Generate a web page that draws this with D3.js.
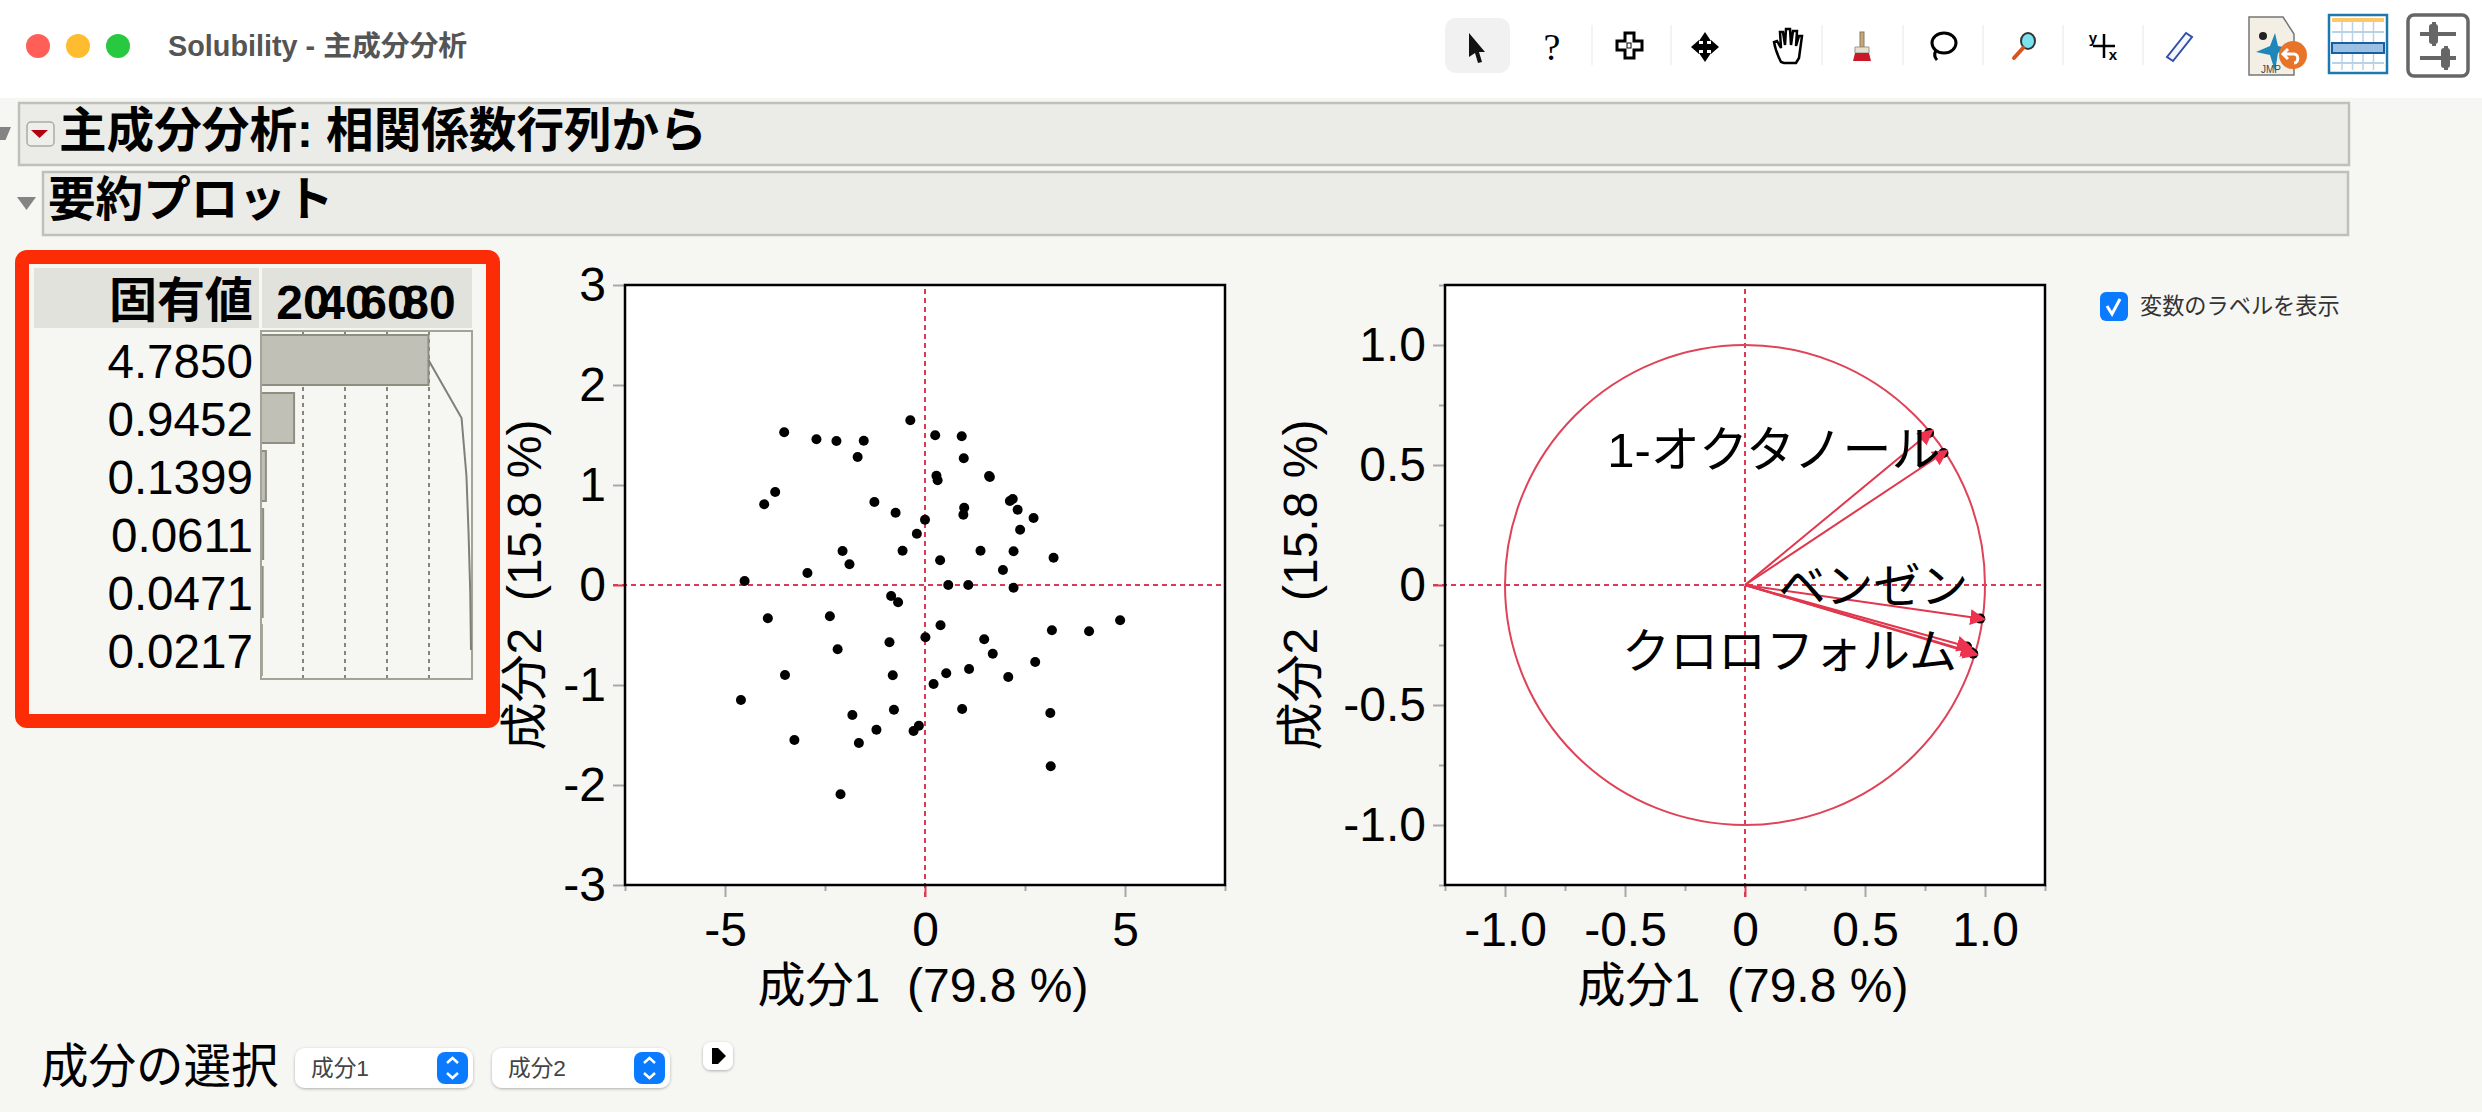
<!DOCTYPE html>
<html><head><meta charset="utf-8">
<script src="https://cdn.jsdelivr.net/npm/d3@7"></script>
<style>
html,body{margin:0;padding:0;background:#f6f6f3;overflow:hidden}
text{font-family:"Liberation Sans","Noto Sans CJK JP",sans-serif;fill:#000}
</style></head><body><div id="chart"></div>
<script>
const windowTitle = "Solubility - 主成分分析";
const sectionTitles = ["主成分分析: 相関係数行列から", "要約プロット"];
const eigenHeader = "固有値";
const eigenvalues = [4.7850, 0.9452, 0.1399, 0.0611, 0.0471, 0.0217];
const percentTicks = [20, 40, 60, 80];
const xAxisLabel = "成分1  (79.8 %)";
const yAxisLabel = "成分2  (15.8 %)";
const scoreX = [-0.367,-3.52,-2.714,-2.214,-1.531,0.255,0.918,-1.684,0.969,0.286,0.316,1.622,1.602,-3.745,-4.02,-1.265,-0.735,2.194,2.122,2.316,0.98,0.959,0,2.714,-0.204,2.378,-2.061,-0.561,1.388,2.214,0.378,3.214,-1.888,-2.939,1.949,-4.51,0.582,1.082,2.214,-0.847,-0.673,-3.929,-2.378,4.878,0.388,3.173,4.102,0.01,1.48,-0.888,-2.184,1.694,2.755,1.102,0.531,-3.5,-0.806,2.082,0.214,-4.602,-0.776,0.929,3.133,-1.816,-0.153,-1.214,-0.286,-3.265,-1.653,3.143,-2.112];
const scoreY = [1.647,1.527,1.457,1.44,1.443,1.497,1.487,1.28,1.267,1.093,1.047,1.08,1.09,0.93,0.807,0.83,0.723,0.86,0.84,0.753,0.773,0.703,0.653,0.67,0.513,0.553,0.34,0.343,0.343,0.337,0.247,0.273,0.207,0.12,0.15,0.04,0,0,-0.027,-0.11,-0.173,-0.333,-0.313,-0.353,-0.403,-0.453,-0.463,-0.523,-0.543,-0.573,-0.643,-0.687,-0.77,-0.84,-0.883,-0.9,-0.903,-0.92,-0.99,-1.15,-1.247,-1.24,-1.28,-1.3,-1.407,-1.447,-1.46,-1.55,-1.58,-1.813,-2.093];
const loadingX = [0.767,0.827,0.98,0.925,0.942,0.951];
const loadingY = [0.633,0.55,-0.14,-0.256,-0.279,-0.286];
const labelText = ["1-オクタノール","ベンゼン","クロロフォルム"];
const labelPoint = [1,2,4];
const scoreXTicks = [-5,0,5], scoreXMinor = [-7.5,-2.5,2.5,7.5];
const scoreYTicks = [-3,-2,-1,0,1,2,3];
const loadTicks = [-1,-0.5,0,0.5,1], loadMinor = [-1.25,-0.75,-0.25,0.25,0.75,1.25];
const selectLabels = ["成分1","成分2"];
const checkboxLabel = "変数のラベルを表示";
const selectHeading = "成分の選択";

const W=2482,H=1112,FS=48;
const RED="#dc3a50", GRID="#85857c";
const svg=d3.select("#chart").append("svg").attr("width",W).attr("height",H).style("display","block");
svg.append("rect").attr("width",W).attr("height",H).attr("fill","#f6f6f3");
svg.append("rect").attr("width",W).attr("height",98).attr("fill","#fff");

// ---- window chrome
[["#ff5f57",38],["#febc2e",78],["#28c840",118]].forEach(([c,x])=>svg.append("circle").attr("cx",x).attr("cy",46).attr("r",12).attr("fill",c));
svg.append("text").attr("x",168).attr("y",56).attr("font-size",28.8).attr("font-weight",700).style("fill","#555").text(windowTitle);
svg.append("rect").attr("x",1445).attr("y",18).attr("width",65).attr("height",55).attr("rx",11).attr("fill","#f1f1f1");
[1592,1671,1822,1903,1983,2063,2143].forEach(x=>svg.append("line").attr("x1",x).attr("x2",x).attr("y1",25).attr("y2",65).attr("stroke","#efefef").attr("stroke-width",1.5));
const ic=svg.append("g");
ic.append("path").attr("d","M1469 33L1485 52L1479 52L1482 62L1478 63L1475 53L1469 57Z").attr("fill","#111");
ic.append("text").attr("x",1552).attr("y",60).attr("text-anchor","middle").attr("font-size",38).style("font-family","Liberation Serif").text("?");
ic.append("path").attr("d","M1625 33h9v8h8v9h-8v8h-9v-8h-8v-9h8z").attr("fill","#fff").attr("stroke","#000").attr("stroke-width",3);
ic.append("rect").attr("x",1627).attr("y",43).attr("width",4).attr("height",5).attr("fill","none").attr("stroke","#000");
ic.append("path").attr("d","M1705 32l6 9h-4v3h4v-4l8 7-8 7v-4h-4v3h4l-6 9-6-9h4v-3h-4v4l-8-7 8-7v4h4v-3h-4z").attr("fill","#000");
ic.append("path").attr("d","M1781 62c-4-8-6-14-7-20l3-1 4 7-1-16h3l2 13 1-16h4l1 16 2-14h4l-1 15 3-10h3l-3 22-3 5h-12z").attr("fill","#fff").attr("stroke","#000").attr("stroke-width",2.5);
ic.append("rect").attr("x",1860).attr("y",32).attr("width",4).attr("height",15).attr("fill","#c9a870").attr("stroke","#876");
ic.append("path").attr("d","M1855 47h14v6h-14z").attr("fill","#e8e0cf").attr("stroke","#998");
ic.append("path").attr("d","M1853 61l2-8h14l2 8z").attr("fill","#c8182a");
ic.append("ellipse").attr("cx",1944).attr("cy",43).attr("rx",12).attr("ry",10).attr("fill","none").attr("stroke","#000").attr("stroke-width",3);
ic.append("path").attr("d","M1936 50c-3 6 0 9 1 10").attr("fill","none").attr("stroke","#000").attr("stroke-width",3);
ic.append("ellipse").attr("cx",2028).attr("cy",41).attr("rx",7).attr("ry",8).attr("fill","#7be3ee").attr("stroke","#333").attr("stroke-width",2);
ic.append("line").attr("x1",2023).attr("y1",48).attr("x2",2014).attr("y2",58).attr("stroke","#d9531e").attr("stroke-width",4).attr("stroke-linecap","round");
ic.append("path").attr("d","M2104 34v24M2093 46h22").attr("stroke","#000").attr("stroke-width",2.5);
ic.append("text").attr("x",2093).attr("y",43).attr("text-anchor","middle").attr("font-size",15).attr("font-weight",700).text("y");
ic.append("text").attr("x",2113).attr("y",60).attr("text-anchor","middle").attr("font-size",15).attr("font-weight",700).text("x");
ic.append("path").attr("d","M2167 57l19-24 6 4-19 24z").attr("fill","#f4f6fb").attr("stroke","#2f4fa8").attr("stroke-width",2);
ic.append("path").attr("d","M2249 17h34l11 17v41h-45z").attr("fill","#f3efe4").attr("stroke","#777").attr("stroke-width",1.5);
ic.append("path").attr("d","M2256 52l14-6 5-13 3 13 10 2-10 5-3 18-5-16z").attr("fill","#1e86b8");
ic.append("circle").attr("cx",2263).attr("cy",36).attr("r",4).attr("fill","#222");
ic.append("circle").attr("cx",2293).attr("cy",55).attr("r",14).attr("fill","#e8742a");
ic.append("path").attr("d","M2288 49l-5 5 5 5M2284 54h10c5 0 5 9 0 9").attr("fill","none").attr("stroke","#fff").attr("stroke-width",3);
ic.append("text").attr("x",2271).attr("y",73).attr("text-anchor","middle").attr("font-size",10).style("fill","#444").text("JMP");
ic.append("rect").attr("x",2329).attr("y",15).attr("width",58).attr("height",58).attr("fill","#fff").attr("stroke","#1d78ad").attr("stroke-width",2.5);
ic.append("rect").attr("x",2332).attr("y",18).attr("width",52).attr("height",4).attr("fill","#ffc766");
d3.range(4).forEach(i=>ic.append("line").attr("x1",2342+i*10.5).attr("x2",2342+i*10.5).attr("y1",22).attr("y2",70).attr("stroke","#b9d2e6").attr("stroke-width",1.5));
[32,63].forEach(y=>ic.append("line").attr("x1",2332).attr("x2",2384).attr("y1",y).attr("y2",y).attr("stroke","#b9d2e6").attr("stroke-width",2));
ic.append("rect").attr("x",2332).attr("y",43).attr("width",52).attr("height",10).attr("fill","#9cc0e2").attr("stroke","#1a5ea3").attr("stroke-width",2);
ic.append("rect").attr("x",2408).attr("y",15).attr("width",60).attr("height",61).attr("rx",6).attr("fill","#fff").attr("stroke","#666").attr("stroke-width",3.5);
ic.append("path").attr("d","M2420 34h36M2434 22v24M2420 58h36M2446 46v24").attr("stroke","#666").attr("stroke-width",4);
ic.append("rect").attr("x",2429).attr("y",24).attr("width",9).attr("height",20).attr("rx",3).attr("fill","#666");
ic.append("rect").attr("x",2441).attr("y",48).attr("width",9).attr("height",20).attr("rx",3).attr("fill","#666");

// ---- outline bars
const bars=[{x:19,y:103,x2:2349,y2:165,tx:59,by:147},{x:43,y:172,x2:2348,y2:235,tx:48,by:216}];
bars.forEach((b,i)=>{
  svg.append("rect").attr("x",b.x).attr("y",b.y).attr("width",b.x2-b.x).attr("height",b.y2-b.y).attr("fill","#ebebe7").attr("stroke","#c0c0ba").attr("stroke-width",2.5);
  svg.append("text").attr("x",b.tx).attr("y",b.by).attr("font-size",47.6).attr("font-weight",700).text(sectionTitles[i]);
});
svg.append("path").attr("d","M0 127h11l-5.5 13L0 140z").attr("fill","#848484");
svg.append("path").attr("d","M17 197h19l-9.5 13z").attr("fill","#848484");
svg.append("rect").attr("x",27).attr("y",122).attr("width",27).attr("height",24).attr("rx",4).attr("fill","#eeeeea").attr("stroke","#aaa").attr("stroke-width",1.5);
svg.append("path").attr("d","M31 130h17l-8.5 8z").attr("fill","#b00012");

// ---- eigenvalue table
const total=d3.sum(eigenvalues);
const pct=eigenvalues.map(v=>v/total*100);
const cum=Array.from(d3.cumsum(pct));
const pctX=d3.scaleLinear().domain([0,100]).range([261,471]);
const rowY=d3.scaleBand().domain(d3.range(eigenvalues.length)).range([331,679]).paddingInner(8/58).paddingOuter(4/58);
const tbl=svg.append("g");
tbl.append("rect").attr("x",34).attr("y",268).attr("width",225).attr("height",60).attr("fill","#e2e2dd");
tbl.append("rect").attr("x",262).attr("y",268).attr("width",210).attr("height",60).attr("fill","#e2e2dd");
tbl.append("text").attr("x",253).attr("y",317).attr("text-anchor","end").attr("font-size",FS).attr("font-weight",700).text(eigenHeader);
tbl.selectAll("text.pt").data(percentTicks).join("text").attr("class","pt").attr("x",d=>pctX(d)).attr("y",319).attr("text-anchor","middle").attr("font-size",FS).attr("font-weight",700).text(d=>d);
tbl.selectAll("line.g").data(percentTicks).join("line").attr("class","g").attr("x1",d=>pctX(d)).attr("x2",d=>pctX(d)).attr("y1",331).attr("y2",679).attr("stroke",GRID).attr("stroke-width",2).attr("stroke-dasharray","4 4");
tbl.selectAll("rect.b").data(pct).join("rect").attr("class","b").attr("x",pctX(0)).attr("y",(d,i)=>rowY(i)).attr("width",d=>pctX(d)-pctX(0)).attr("height",rowY.bandwidth()).attr("fill","#c0c0b6").attr("stroke","#8e8e82").attr("stroke-width",2);
tbl.append("rect").attr("x",261).attr("y",331).attr("width",211).attr("height",348).attr("fill","none").attr("stroke","#a3a398").attr("stroke-width",2);
tbl.append("path").datum(cum).attr("d",d3.line().x(d=>pctX(d)).y((d,i)=>rowY(i)+rowY.bandwidth()/2)).attr("fill","none").attr("stroke","#808078").attr("stroke-width",2);
tbl.selectAll("text.v").data(eigenvalues).join("text").attr("class","v").attr("x",253).attr("y",(d,i)=>rowY(i)+rowY.bandwidth()/2+18).attr("text-anchor","end").attr("font-size",47.6).text(d=>d3.format(".4f")(d));
svg.append("rect").attr("x",22).attr("y",257).attr("width",471).attr("height",464).attr("rx",5).attr("fill","none").attr("stroke","#fb2c06").attr("stroke-width",14);

// ---- plot helper
const fmt=d=>d===0?"0":d.toFixed(1);
function frame(x,y,xT,xM,yT,yM,xFmt,yFmt,labelBase){
  const g=svg.append("g");
  const [l,r]=x.range(),[b,t]=y.range();
  g.append("rect").attr("x",l).attr("y",t).attr("width",r-l).attr("height",b-t).attr("fill","#fff");
  const style=(s)=>{
    s.select(".domain").remove();
    s.selectAll("line").attr("stroke",d=>d===0?RED:"#a8a8a8").attr("stroke-width",2);
    s.selectAll("text").attr("font-size",FS).style("font-family",'"Liberation Sans","Noto Sans CJK JP",sans-serif');
  };
  g.append("g").attr("transform",`translate(0,${b})`).call(d3.axisBottom(x).tickValues(xT).tickSize(12).tickPadding(15).tickFormat(xFmt)).call(style);
  g.append("g").attr("transform",`translate(0,${b})`).call(d3.axisBottom(x).tickValues(xM).tickSize(6).tickFormat("")).call(style);
  g.append("g").attr("transform",`translate(${l},0)`).call(d3.axisLeft(y).tickValues(yT).tickSize(12).tickPadding(7).tickFormat(yFmt)).call(style);
  if(yM.length) g.append("g").attr("transform",`translate(${l},0)`).call(d3.axisLeft(y).tickValues(yM).tickSize(6).tickFormat("")).call(style);
  g.append("line").attr("x1",x(0)).attr("x2",x(0)).attr("y1",t+4).attr("y2",b+12).attr("stroke",RED).attr("stroke-width",2).attr("stroke-dasharray","5 4");
  g.append("line").attr("x1",l-12).attr("x2",r-3).attr("y1",y(0)).attr("y2",y(0)).attr("stroke",RED).attr("stroke-width",2).attr("stroke-dasharray","5 4");
  g.append("text").attr("x",(l+r)/2-2).attr("y",1002).attr("text-anchor","middle").attr("font-size",FS).style("white-space","pre").attr("xml:space","preserve").text(xAxisLabel);
  g.append("text").attr("transform",`translate(${labelBase},${(t+b)/2}) rotate(-90)`).attr("text-anchor","middle").attr("font-size",FS).style("white-space","pre").attr("xml:space","preserve").text(yAxisLabel);
  return ()=>g.append("rect").attr("x",l).attr("y",t).attr("width",r-l).attr("height",b-t).attr("fill","none").attr("stroke","#000").attr("stroke-width",2.5);
}

// ---- score plot
const sx=d3.scaleLinear().domain([-7.5,7.5]).range([625,1225]);
const sy=d3.scaleLinear().domain([-3,3]).range([885,285]);
const f1=frame(sx,sy,scoreXTicks,scoreXMinor,scoreYTicks,[],d=>String(d),d=>String(d),541);
svg.append("g").selectAll("circle").data(scoreX).join("circle").attr("cx",d=>sx(d)).attr("cy",(d,i)=>sy(scoreY[i])).attr("r",5).attr("fill","#000");
f1();

// ---- loading plot
const lx=d3.scaleLinear().domain([-1.25,1.25]).range([1445,2045]);
const ly=d3.scaleLinear().domain([-1.25,1.25]).range([885,285]);
const f2=frame(lx,ly,loadTicks,loadMinor,loadTicks,loadMinor,fmt,fmt,1317);
svg.append("ellipse").attr("cx",lx(0)).attr("cy",ly(0)).attr("rx",lx(1)-lx(0)).attr("ry",ly(0)-ly(1)).attr("fill","none").attr("stroke","#df4358").attr("stroke-width",2);
svg.append("defs").append("marker").attr("id","head").attr("markerUnits","userSpaceOnUse").attr("markerWidth",20).attr("markerHeight",20).attr("refX",10).attr("refY",8).attr("orient","auto")
  .append("path").attr("d","M0 0L16 8L0 16Z").attr("fill","#ee3350");
svg.append("g").selectAll("circle").data(loadingX).join("circle").attr("cx",d=>lx(d)).attr("cy",(d,i)=>ly(loadingY[i])).attr("r",5).attr("fill","#000");
svg.append("g").selectAll("line").data(loadingX).join("line").attr("x1",lx(0)).attr("y1",ly(0)).attr("x2",d=>lx(d)).attr("y2",(d,i)=>ly(loadingY[i])).attr("stroke","#e0374d").attr("stroke-width",2).attr("marker-end","url(#head)");
const labelOffset=[[-3,14],[-12,-16],[-14,16]];
const labelSize=[49,47.5,48];
svg.append("g").selectAll("text").data(labelText).join("text")
  .attr("x",(d,i)=>lx(loadingX[labelPoint[i]])+labelOffset[i][0])
  .attr("y",(d,i)=>ly(loadingY[labelPoint[i]])+labelOffset[i][1])
  .attr("text-anchor","end").attr("font-size",(d,i)=>labelSize[i]).text(d=>d);
f2();

// ---- checkbox
svg.append("rect").attr("x",2100).attr("y",292).attr("width",28).attr("height",29).attr("rx",6).attr("fill","#0a7aff");
svg.append("path").attr("d","M2107 306l5 8 8-15").attr("fill","none").attr("stroke","#fff").attr("stroke-width",3);
svg.append("text").attr("x",2140).attr("y",314).attr("font-size",22.2).style("fill","#333").text(checkboxLabel);

// ---- bottom controls
svg.append("text").attr("x",41).attr("y",1083).attr("font-size",47.5).text(selectHeading);
const sh=svg.append("defs").append("filter").attr("id","sh").attr("x","-10%").attr("y","-20%").attr("width","120%").attr("height","150%");
sh.append("feDropShadow").attr("dx",0).attr("dy",1).attr("stdDeviation",1.5).attr("flood-color","#000").attr("flood-opacity",.3);
[295,492].forEach((x,i)=>{
  svg.append("rect").attr("x",x).attr("y",1048).attr("width",178).attr("height",40).attr("rx",10).attr("fill","#fff").attr("filter","url(#sh)");
  svg.append("text").attr("x",x+16).attr("y",1076).attr("font-size",22.7).style("fill","#444").text(selectLabels[i]);
  svg.append("rect").attr("x",x+142).attr("y",1052).attr("width",31).attr("height",32).attr("rx",8).attr("fill","#0a7aff");
  svg.append("path").attr("d",`M${x+152} 1063l5.500-5 5.500 5M${x+152} 1073l5.500 5 5.500-5`).attr("fill","none").attr("stroke","#fff").attr("stroke-width",2.5);
});
svg.append("rect").attr("x",703).attr("y",1042).attr("width",30).attr("height",28).attr("rx",8).attr("fill","#fff").attr("filter","url(#sh)");
svg.append("path").attr("d","M712 1048h6l8 8-8 8h-6z").attr("fill","#000");
</script></body></html>
